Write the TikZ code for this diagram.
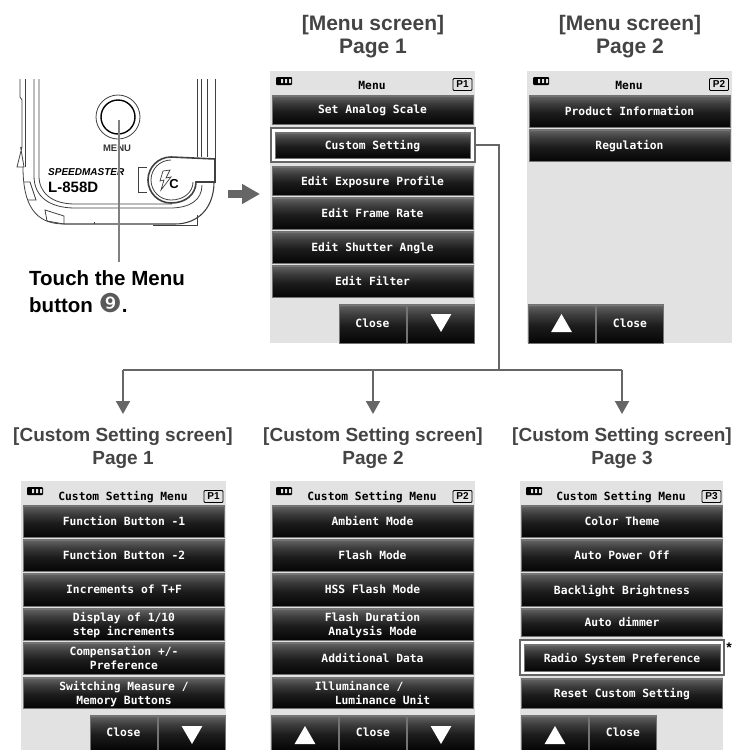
\documentclass[tikz,border=0pt]{standalone}
\usepackage{fontspec}
\setmainfont{Liberation Sans}
\newfontfamily\menufont{DejaVu Sans Mono}
\newfontfamily\dingfont{DejaVu Sans}
\usepackage{tikz}
\usepackage{xcolor}
\usetikzlibrary{arrows.meta,shapes.geometric}
\definecolor{screenbg}{HTML}{E2E2E2}
\definecolor{headcol}{HTML}{444444}
\definecolor{wirecol}{HTML}{666666}
\definecolor{btnA}{HTML}{050505}
\definecolor{btnB}{HTML}{1C1C1C}
\definecolor{btnC}{HTML}{3E3E3E}
\definecolor{btnD}{HTML}{5E5E5E}
\definecolor{btnE}{HTML}{8C8C8C}
\pgfdeclareverticalshading{btnshade}{100bp}{color(0bp)=(btnA); color(25bp)=(btnA); color(47bp)=(btnB); color(62bp)=(btnC); color(72bp)=(btnD); color(75bp)=(btnE); color(100bp)=(btnE)}
\tikzset{
  btn/.style={shading=btnshade,draw=black!55,line width=0.5pt,inner sep=0pt,text=white,text depth=0pt,font=\menufont\bfseries\fontsize{11.3}{14}\selectfont,align=center,minimum width=201pt,minimum height=32pt},
  softbtn/.style={btn,minimum width=67pt,minimum height=39pt},
  hibox/.style={draw=wirecol,fill=white,line width=2pt,inner sep=0pt,minimum width=204pt,minimum height=34pt},
  head/.style={font=\bfseries\fontsize{19}{23}\selectfont,text=headcol,align=center,inner sep=0pt},
  bighead/.style={head,font=\bfseries\fontsize{21}{23}\selectfont},
  ttl/.style={font=\menufont\bfseries\fontsize{11.3}{13}\selectfont,text depth=0pt,inner sep=0pt},
  tag/.style={draw=black,line width=0.9pt,rounded corners=1pt,inner sep=0pt,font=\bfseries\fontsize{10}{10}\selectfont,minimum width=19pt,minimum height=12pt},
  triup/.style={regular polygon,regular polygon sides=3,fill=white,inner sep=0pt,minimum size=24pt},
  tridn/.style={triup,shape border rotate=180},
  wire/.style={draw=wirecol,line width=1.6pt},
  drop/.style={wire,line width=2pt,-{Triangle[width=14pt,length=13pt]}},
  body/.style={draw=black!75,line width=0.8pt},
  batt/.pic={\fill[black,rounded corners=1pt] (0,0) rectangle (16,8);\fill[screenbg] (5,2) rectangle (7,6) (9,2) rectangle (11,6) (13,2) rectangle (15,6);}
}
\begin{document}
\begin{tikzpicture}[x=1pt,y=-1pt]
\useasboundingbox (0,0) rectangle (732,750);
\draw[body] (20,79) -- (20,97) -- (22,100) -- (22,147) -- (17,167) -- (24,167) -- (20.6,147);
\draw[body] (25,79) -- (25,167);
\draw[body] (23,167) .. controls (23,205) and (35,224) .. (64,224);
\draw[body] (34,79) -- (34,176) .. controls (34,197) and (50,208) .. (75,208) -- (170,208) .. controls (190,208) and (202,200) .. (202,185);
\draw[body] (39,79) -- (39,176) .. controls (39,193) and (52,204) .. (75,204) -- (172,204);
\draw[body] (24,182) -- (30,182) -- (36,200) -- (28,200);
\draw[body] (45,210) -- (64,216) -- (64,224) -- (47,221) -- cycle;
\draw[body,line width=1.1pt] (64,224) -- (175,224) .. controls (198,224) and (214,208) .. (214,182);
\draw[body] (153,225) -- (197,225) -- (197,215);
\draw[body] (94,222) -- (94,224);
\draw[body] (197,79) -- (197,157);
\draw[body] (201,79) -- (201,157);
\draw[body] (207,79) -- (207,157);
\draw[body] (215,79) -- (215,159);
\draw[body] (147,167) -- (138,167) -- (138,192) -- (147,192);
\draw[body,fill=white,line width=1.6pt] (215,159) -- (171,157) arc[start angle=270,end angle=90,radius=23] .. controls (186,203) and (196,194) .. (196,182) -- (215,182) -- cycle;
\draw[body] (171,160) arc[start angle=270,end angle=90,radius=20] .. controls (184,200) and (193,192) .. (193,182);
\draw[body,line width=0.7pt] (163,171) -- (170,170) -- (166,178) -- (171,177) -- (161,190) -- (164,180) -- (160,181) -- cycle;
\node[inner sep=0pt,font=\bfseries\fontsize{13}{13}\selectfont] (flashc) at (174,184) {C};
\draw[black!75,line width=0.8pt] (118,117) circle[radius=22];
\draw[black,line width=1.4pt] (118,117) circle[radius=17];
\coordinate (menubtn) at (119,120);
\coordinate (touchtop) at (119,262);
\node[inner sep=0pt,font=\bfseries\fontsize{9.5}{9.5}\selectfont,text=black!80] (menulab) at (117,148) {MENU};
\node[inner sep=0pt,anchor=west,font=\bfseries\itshape\fontsize{10}{10}\selectfont] (brand) at (48,172) {SPEEDMASTER};
\node[inner sep=0pt,anchor=west,font=\bfseries\fontsize{15}{15}\selectfont] (model) at (48,187) {L-858D};
\draw[draw=black!50,line width=1.3pt] (menubtn) -- (touchtop);
\node[inner sep=0pt,anchor=north west,align=left,font=\bfseries\fontsize{20.5}{27}\selectfont] (touch) at (29,270) {Touch the Menu\\button {\dingfont\mdseries\fontsize{26}{27}\selectfont\textcolor{black!65}{❾}}.};
\coordinate (devright) at (228,194);
\coordinate (menuleft) at (260,194);
\draw[wirecol,line width=8pt,-{Triangle[width=19pt,length=18pt]}] (devright) -- (menuleft);

\node[bighead] (headm1) at (373,37) {[Menu screen]\\Page 1};
\node[bighead] (headm2) at (630,37) {[Menu screen]\\Page 2};
\fill[screenbg] (270,71) rectangle (475,343);
\pic at (276,77) {batt};
\node[ttl] (titlem1) at (372,85) {Menu};
\node[tag] (tagm1) at (462.5,84.5) {P1};
\node[btn,minimum height=29pt] (analog) at (372.5,109.5) {Set Analog Scale};
\node[hibox] (hicustom) at (373,145) {};
\node[btn,minimum width=195pt,minimum height=26pt] (custom) at (372.5,145) {Custom Setting};
\node[btn,minimum height=29pt] (exposure) at (372.5,180.5) {Edit Exposure Profile};
\node[btn] (frame) at (372.5,213) {Edit Frame Rate};
\node[btn] (shutter) at (372.5,247) {Edit Shutter Angle};
\node[btn] (filter) at (372.5,281) {Edit Filter};
\node[softbtn] (closem1) at (372.5,323.5) {Close};
\node[softbtn] (downm1) at (441,323.5) {};
\node[tridn] (tridm1) at (441,320) {};

\fill[screenbg] (527,71) rectangle (732,343);
\pic at (533,77) {batt};
\node[ttl] (titlem2) at (629,85) {Menu};
\node[tag] (tagm2) at (719,84.5) {P2};
\node[btn] (product) at (629.5,111) {Product Information};
\node[btn] (regulation) at (629.5,145) {Regulation};
\node[softbtn] (upm2) at (561.5,323.5) {};
\node[triup] (trium2) at (561.5,326) {};
\node[softbtn] (closem2) at (630,323.5) {Close};

\coordinate (bend) at (499,370);
\coordinate (drop1) at (123,370);
\coordinate (drop2) at (373,370);
\coordinate (drop3) at (622,370);
\coordinate (tip1) at (123,414);
\coordinate (tip2) at (373,414);
\coordinate (tip3) at (622,414);
\draw[wire] (hicustom.east) -| (bend);
\draw[wire] (drop1) -- (drop3);
\draw[drop] (drop1) -- (tip1);
\draw[drop] (drop2) -- (tip2);
\draw[drop] (drop3) -- (tip3);

\node[head] (headc1) at (123,448) {[Custom Setting screen]\\Page 1};
\node[head] (headc2) at (373,448) {[Custom Setting screen]\\Page 2};
\node[head] (headc3) at (622,448) {[Custom Setting screen]\\Page 3};

\fill[screenbg] (21,481) rectangle (226,750);
\pic at (27,487) {batt};
\node[ttl] (titlec1) at (123,496) {Custom Setting Menu};
\node[tag] (tagc1) at (213.5,496.5) {P1};
\node[btn] (fbone) at (124,521) {Function Button -1};
\node[btn] (fbtwo) at (124,555) {Function Button -2};
\node[btn,minimum height=33pt] (increments) at (124,589.5) {Increments of T+F};
\node[btn] (display) at (124,624) {Display of 1/10\\step increments};
\node[btn] (compensation) at (124,658) {Compensation +/-\\Preference};
\node[btn,minimum height=31pt] (switching) at (124,692.5) {Switching Measure /\\Memory Buttons};
\node[softbtn,minimum height=35pt] (closec1) at (123.5,732.5) {Close};
\node[softbtn,minimum height=35pt] (downc1) at (192,732.5) {};
\node[tridn] (tridc1) at (192,732) {};

\fill[screenbg] (270,481) rectangle (475,750);
\pic at (276,487) {batt};
\node[ttl] (titlec2) at (372,496) {Custom Setting Menu};
\node[tag] (tagc2) at (462.5,496.5) {P2};
\node[btn] (ambient) at (372.5,521) {Ambient Mode};
\node[btn] (flash) at (372.5,555) {Flash Mode};
\node[btn,minimum height=33pt] (hss) at (372.5,589.5) {HSS Flash Mode};
\node[btn] (duration) at (372.5,624) {Flash Duration\\Analysis Mode};
\node[btn] (additional) at (372.5,658) {Additional Data};
\node[btn,minimum height=31pt,align=left] (illuminance) at (372.5,692.5) {Illuminance /\\\hspace*{20pt}Luminance Unit};
\node[softbtn,minimum height=35pt] (upc2) at (305,732.5) {};
\node[triup] (triuc2) at (305,738) {};
\node[softbtn,minimum height=35pt] (closec2) at (373,732.5) {Close};
\node[softbtn,minimum height=35pt] (downc2) at (441,732.5) {};
\node[tridn] (tridc2) at (441,732) {};

\fill[screenbg] (520,481) rectangle (723,750);
\pic at (526,487) {batt};
\node[ttl] (titlec3) at (621,496) {Custom Setting Menu};
\node[tag] (tagc3) at (711.5,496.5) {P3};
\node[btn] (theme) at (622,521) {Color Theme};
\node[btn] (power) at (622,555) {Auto Power Off};
\node[btn,minimum height=33pt] (backlight) at (622,589.5) {Backlight Brightness};
\node[btn,minimum height=28pt] (dimmer) at (622,622) {Auto dimmer};
\node[hibox,minimum height=35pt] (hiradio) at (622,657.5) {};
\node[btn,minimum width=196pt,minimum height=27pt] (radio) at (622,657.5) {Radio System Preference};
\node[btn,minimum height=30pt] (reset) at (622,693) {Reset Custom Setting};
\node[softbtn,minimum height=35pt] (upc3) at (555,732.5) {};
\node[triup] (triuc3) at (555,738) {};
\node[softbtn,minimum height=35pt] (closec3) at (623,732.5) {Close};
\node[inner sep=0pt,font=\bfseries\fontsize{14}{14}\selectfont] (radiostar) at (729,648) {*};
\end{tikzpicture}
\end{document}
